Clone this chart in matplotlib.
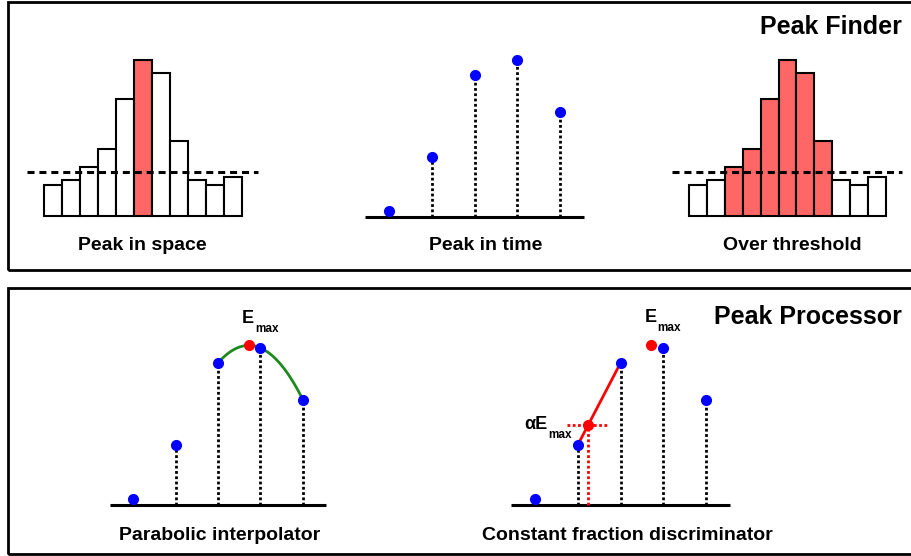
import numpy as np
import matplotlib.pyplot as plt
from matplotlib.patches import Rectangle

# Data (heights)
space_heights = [31, 36, 49, 67, 117, 156, 143, 75, 36, 31, 39]
threshold = 44
time_samples = [6, 60, 142, 157, 105]
cfd_fraction = 0.5

panel_labels = ["Peak in space", "Peak in time", "Over threshold",
                "Parabolic interpolator", "Constant fraction discriminator"]
titles = ["Peak Finder", "Peak Processor"]

W, H = 911, 556
plt.rcParams['font.family'] = ['Liberation Sans', 'DejaVu Sans']

fig = plt.figure(figsize=(W / 100, H / 100), dpi=100)

BLUE = '#0000ff'
RED = '#ff0000'
BAR_RED = '#ff6666'
GREEN = '#1e8a1e'


def panel_axes(x0, base, sx, sy, xlim, ylim):
    """Axes whose data x=0 sits at pixel x0 and y=0 at pixel row base."""
    left = x0 + xlim[0] * sx
    right = x0 + xlim[1] * sx
    bottom = base - ylim[0] * sy
    top = base - ylim[1] * sy
    ax = fig.add_axes([left / W, 1 - bottom / H, (right - left) / W, (bottom - top) / H])
    ax.set_xlim(*xlim)
    ax.set_ylim(*ylim)
    ax.axis('off')
    return ax


def histogram(ax, colors):
    idx = np.arange(len(space_heights))
    ax.bar(idx, space_heights, width=1.0, color=colors, edgecolor='black',
           linewidth=1.5, zorder=2)
    ax.plot([-1.45, len(space_heights) + 0.4], [threshold, threshold], color='black',
            lw=2.2, linestyle=(0, (2.3, 1.6)), zorder=3)


def stems(ax, show_stems=True):
    idx = np.arange(len(time_samples))
    ax.plot([-0.55, len(time_samples) - 0.45], [0, 0], color='black', lw=2.2,
            solid_capstyle='butt', zorder=1)
    if show_stems:
        for i, v in zip(idx, time_samples):
            ax.plot([i, i], [0, v], color='black', lw=2, linestyle=(0, (1, 0.9)), zorder=2)
    ax.plot(idx, time_samples, 'o', color=BLUE, markersize=7, zorder=5)


def emax_label(ax, x, y, dx, dy, prefix="E"):
    ax.annotate(prefix, (x, y), xytext=(dx, dy), textcoords='offset pixels',
                ha='right', va='center', fontsize=13, fontweight='bold')
    ax.annotate("max", (x, y), xytext=(dx + 1, dy - 11), textcoords='offset pixels',
                ha='left', va='center', fontsize=8.5, fontweight='bold')


# Frames
fig.patches.append(Rectangle((8 / W, 1 - 270 / H), 1, 268 / H, transform=fig.transFigure,
                             fill=False, edgecolor='black', lw=2))
fig.patches.append(Rectangle((8 / W, 1 - 554 / H), 1, 266 / H, transform=fig.transFigure,
                             fill=False, edgecolor='black', lw=2))

# Peak in space
peak = int(np.argmax(space_heights))
ax1 = panel_axes(53, 216, 18, 1, (-1.5, 11.5), (-6, 170))
histogram(ax1, [BAR_RED if i == peak else 'white' for i in range(len(space_heights))])

# Peak in time
ax2 = panel_axes(389, 217, 42.75, 1, (-0.7, 4.7), (-6, 170))
stems(ax2)

# Over threshold
ax3 = panel_axes(698, 216, 17.9, 1, (-1.6, 11.6), (-6, 170))
histogram(ax3, [BAR_RED if h > threshold else 'white' for h in space_heights])

# Parabolic fit around the maximum sample
imax = int(np.argmax(time_samples))
fit_x = np.arange(imax - 1, imax + 2)
coef = np.polyfit(fit_x, [time_samples[i] for i in fit_x], 2)
x_peak = -coef[1] / (2 * coef[0])
e_max = np.polyval(coef, x_peak)
xs = np.linspace(fit_x[0], fit_x[-1], 100)

# Parabolic interpolator
ax4 = panel_axes(133, 505, 42.5, 1, (-0.7, 4.7), (-6, 190))
stems(ax4)
ax4.plot(xs, np.polyval(coef, xs), color=GREEN, lw=2, zorder=3)
ax4.plot([x_peak], [e_max], 'o', color=RED, markersize=7, zorder=6)
emax_label(ax4, x_peak, e_max, 5, 27)

# Constant fraction discriminator
ax5 = panel_axes(535, 505, 42.75, 1, (-0.7, 4.7), (-6, 190))
stems(ax5)
ax5.plot([x_peak], [e_max], 'o', color=RED, markersize=7, zorder=6)
emax_label(ax5, x_peak, e_max, 5, 28)
level = cfd_fraction * e_max
i0 = int(np.argmax(np.array(time_samples) >= level)) - 1
x_cf = i0 + (level - time_samples[i0]) / (time_samples[i0 + 1] - time_samples[i0])
ax5.plot([i0, i0 + 1], [time_samples[i0], time_samples[i0 + 1]], color=RED, lw=2, zorder=4)
ax5.plot([x_cf - 0.5, x_cf + 0.5], [level, level], color=RED, lw=2,
         linestyle=(0, (1, 0.9)), zorder=3)
ax5.plot([x_cf, x_cf], [0, level], color=RED, lw=2, linestyle=(0, (1, 0.9)), zorder=3)
ax5.plot([x_cf], [level], 'o', color=RED, markersize=7, zorder=6)
ax5.annotate("\u03b1E", (x_cf, level), xytext=(-41, 1), textcoords='offset pixels',
             ha='right', va='center', fontsize=13, fontweight='bold')
ax5.annotate("max", (x_cf, level), xytext=(-40, -10), textcoords='offset pixels',
             ha='left', va='center', fontsize=8.5, fontweight='bold')

# Texts
label_pos = [(142, 246), (486, 246), (792, 246), (220, 536), (627, 535)]
for s, (x, y) in zip(panel_labels, label_pos):
    fig.text(x / W, 1 - y / H, s, ha='center', va='center', fontsize=14, fontweight='bold')
fig.text(902 / W, 1 - 27 / H, titles[0], ha='right', va='center', fontsize=18, fontweight='bold')
fig.text(902 / W, 1 - 317 / H, titles[1], ha='right', va='center', fontsize=18, fontweight='bold')

fig.savefig('out.png', dpi=100)
